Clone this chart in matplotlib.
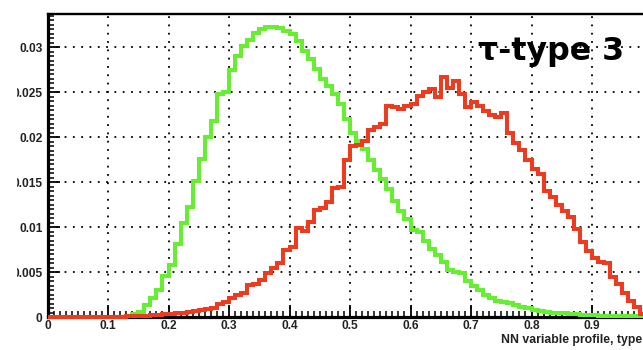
import numpy as np
import matplotlib
matplotlib.use("Agg")
import matplotlib.pyplot as plt
from matplotlib.ticker import MultipleLocator, FuncFormatter
from matplotlib.patches import Rectangle

# ---- data (bin contents, 100 bins over 0..1) ----
bin_edges = np.round(np.arange(101) * 0.01, 2)

green_values = [
    0, 0, 0, 0, 0, 0, 0, 0, 0, 0,
    0, 0, 0, 0.0001, 0.0003, 0.0006, 0.0013, 0.0021, 0.0030, 0.0046,
    0.0058, 0.0081, 0.0105, 0.0122, 0.0151, 0.0176, 0.0200, 0.0218, 0.0248, 0.0250,
    0.0274, 0.0290, 0.0301, 0.0308, 0.0316, 0.0320, 0.0322, 0.0322, 0.0321, 0.0318,
    0.0314, 0.0307, 0.0296, 0.0287, 0.0276, 0.0264, 0.0257, 0.0248, 0.0237, 0.0220,
    0.0205, 0.0196, 0.0187, 0.0174, 0.0163, 0.0153, 0.0142, 0.0129, 0.0118, 0.0109,
    0.0097, 0.0095, 0.0084, 0.0076, 0.0069, 0.0061, 0.0052, 0.0050, 0.0049, 0.0040,
    0.0034, 0.0030, 0.0025, 0.0021, 0.0018, 0.0017, 0.0016, 0.0013, 0.0011, 0.0010,
    0.0008, 0.0007, 0.0006, 0.0005, 0.0005, 0.0004, 0.0003, 0.0003, 0.0002, 0.0002,
    0.0002, 0.0001, 0.0001, 0.0001, 0.0001, 0.0001, 0.0001, 0.0001, 0.0001, 0.0001,
]

red_values = [
    0, 0, 0, 0, 0, 0, 0, 0, 0, 0,
    0, 0.00005, 0.00005, 0.0001, 0.0001, 0.0001, 0.0001, 0.0002, 0.0002, 0.0003,
    0.0003, 0.0004, 0.0005, 0.0006, 0.0007, 0.0008, 0.0009, 0.0010, 0.0014, 0.0017,
    0.0021, 0.0024, 0.0027, 0.0036, 0.0037, 0.0041, 0.0049, 0.0055, 0.0060, 0.0075,
    0.0078, 0.0099, 0.0096, 0.0106, 0.0119, 0.0121, 0.0128, 0.0143, 0.0145, 0.0175,
    0.0190, 0.0191, 0.0196, 0.0208, 0.0211, 0.0214, 0.0234, 0.0233, 0.0231, 0.0235,
    0.0237, 0.0246, 0.0250, 0.0253, 0.0244, 0.0267, 0.0255, 0.0262, 0.0248, 0.0233,
    0.0239, 0.0234, 0.0229, 0.0224, 0.0222, 0.0227, 0.0204, 0.0193, 0.0186, 0.0175,
    0.0164, 0.0159, 0.0140, 0.0133, 0.0124, 0.0118, 0.0111, 0.0098, 0.0083, 0.0073,
    0.0066, 0.0061, 0.0060, 0.0045, 0.0037, 0.0027, 0.0018, 0.0011, 0.0003, 0.0001,
]

x_major = [0, 0.1, 0.2, 0.3, 0.4, 0.5, 0.6, 0.7, 0.8, 0.9, 1.0]
y_major = [0, 0.005, 0.01, 0.015, 0.02, 0.025, 0.03]
x_label = "NN variable profile, type 3"
title_text = "\u03c4-type 3"

GREEN = "#66ee33"
RED = "#ee3a1e"

# ---- figure ----
W, H = 643, 350
fig = plt.figure(figsize=(W / 100, H / 100), dpi=100)
fig.patch.set_facecolor("white")

ax_left, ax_bottom = 47.5, 350 - 317
ax_w, ax_h = 605, 303
ax = fig.add_axes([ax_left / W, ax_bottom / H, ax_w / W, ax_h / H])

ax.set_xlim(0, 1.0)
ax.set_ylim(0, 0.03367)

ax.stairs(green_values, bin_edges, color=GREEN, linewidth=2.9, zorder=4,
          clip_on=False, baseline=0)
ax.stairs(red_values, bin_edges, color=RED, linewidth=2.9, zorder=5,
          clip_on=False, baseline=0)

# grid
ax.set_xticks(x_major)
ax.set_yticks(y_major)
ax.xaxis.set_minor_locator(MultipleLocator(0.01))
ax.yaxis.set_minor_locator(MultipleLocator(0.0005))
ax.grid(True, which="major", color="black", linestyle=(0, (1, 3.6)),
        linewidth=1.3, zorder=1)
ax.set_axisbelow(True)

fmt = FuncFormatter(lambda v, p: "%g" % round(v, 4))
ax.xaxis.set_major_formatter(fmt)
ax.yaxis.set_major_formatter(fmt)

for lbl in ax.get_xticklabels() + ax.get_yticklabels():
    lbl.set_fontfamily("Liberation Sans")
    lbl.set_fontweight("bold")
    lbl.set_fontsize(8.6)
    lbl.set_color("#222222")

ax.tick_params(axis="both", which="major", direction="in", length=8.5,
               width=1.3, color="black", top=False, right=False, pad=2.5)
ax.tick_params(axis="both", which="minor", direction="in", length=4,
               width=1.1, color="black", top=False, right=False)
ax.tick_params(axis="y", which="major", pad=3.5)

for side in ("left", "bottom"):
    ax.spines[side].set_linewidth(2.3)
ax.spines["top"].set_linewidth(1.7)
ax.spines["right"].set_visible(False)

ax.set_xlabel(x_label, loc="right", fontfamily="Liberation Sans",
              fontweight="bold", fontsize=8.8, color="#222222", labelpad=1)

ax.text(0.712, 0.876, title_text, transform=ax.transAxes, ha="left",
        va="center", fontfamily="DejaVu Sans", fontweight="bold",
        fontsize=22.8, color="black", zorder=6)

# white margin at the very left (original image crop)
fig.patches.append(Rectangle((0, 0), 17 / W, 1, transform=fig.transFigure,
                             facecolor="white", edgecolor="none", zorder=20))

fig.savefig("out.png", dpi=100)
